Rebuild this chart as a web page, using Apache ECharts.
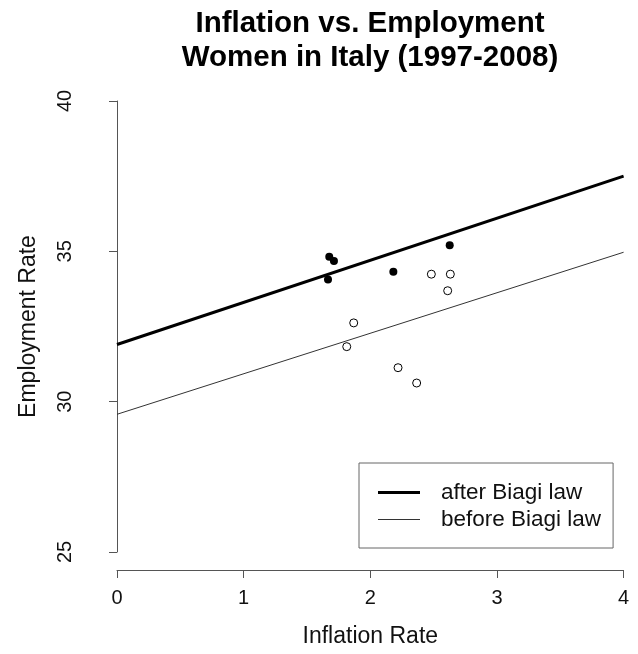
<!DOCTYPE html>
<html>
<head>
<meta charset="utf-8">
<script src="https://cdn.jsdelivr.net/npm/echarts@6/dist/echarts.min.js"></script>
<style>
html,body{margin:0;padding:0;background:#fff;}
#chart{width:638px;height:654px;}
</style>
</head>
<body>
<div id="chart"></div>
<script>
// Data
var titleLines = ['Inflation vs. Employment', 'Women in Italy (1997-2008)'];
var xTicks = [0, 1, 2, 3, 4];
var yTicks = [25, 30, 35, 40];

// Points after Biagi law (filled)
var afterInflation  = [1.676, 1.713, 1.666, 2.182, 2.627];
var afterEmployment = [34.82, 34.68, 34.06, 34.32, 35.20];

// Points before Biagi law (open)
var beforeInflation  = [2.482, 2.632, 2.611, 1.869, 1.814, 2.219, 2.366];
var beforeEmployment = [34.24, 34.24, 33.69, 32.62, 31.83, 31.13, 30.62];

// Fitted lines: values at inflation = 0 and inflation = 4
var lineX = [0, 4];
var afterLineY  = [31.90, 37.50];
var beforeLineY = [29.58, 34.97];

function zip(a, b) { return a.map(function (v, i) { return [v, b[i]]; }); }

var FONT = 'Liberation Sans, Arial, Helvetica, sans-serif';
var AXIS_COLOR = '#555';

var chart = echarts.init(document.getElementById('chart'), null, {renderer: 'canvas'});
chart.setOption({
  animation: false,
  backgroundColor: '#fff',
  title: {
    text: titleLines.join('\n'),
    left: 370,
    top: 7,
    textAlign: 'center',
    padding: 0,
    textStyle: {fontFamily: FONT, fontWeight: 'bold', fontSize: 29.5, lineHeight: 34, color: '#000'}
  },
  legend: {
    orient: 'vertical',
    left: 359,
    top: 463,
    padding: [18, 12, 17, 19],
    itemGap: 4,
    itemWidth: 42,
    itemHeight: 22,
    borderColor: '#666',
    borderWidth: 1,
    textStyle: {fontFamily: FONT, fontSize: 22.5, color: '#111', lineHeight: 22, padding: [0, 0, 0, 16]},
    data: [
      {name: 'after Biagi law', icon: 'path://M0,0 H42 V3 H0 Z'},
      {name: 'before Biagi law', icon: 'path://M0,0 H42 V1 H0 Z'}
    ]
  },
  grid: {left: 117, top: 101, width: 506.6, height: 451, containLabel: false},
  xAxis: {
    type: 'value',
    min: xTicks[0],
    max: xTicks[xTicks.length - 1],
    interval: 1,
    offset: 18,
    name: 'Inflation Rate',
    nameLocation: 'middle',
    nameGap: 55,
    nameTextStyle: {fontFamily: FONT, fontSize: 23, color: '#111'},
    axisLine: {show: true, lineStyle: {color: AXIS_COLOR, width: 1}},
    axisTick: {show: true, length: 8, lineStyle: {color: AXIS_COLOR}},
    axisLabel: {fontFamily: FONT, fontSize: 20, color: '#111', margin: 18},
    splitLine: {show: false}
  },
  yAxis: {
    type: 'value',
    min: yTicks[0],
    max: yTicks[yTicks.length - 1],
    interval: 5,
    offset: 20,
    name: 'Employment Rate',
    nameLocation: 'middle',
    nameGap: 57,
    nameRotate: 90,
    nameTextStyle: {fontFamily: FONT, fontSize: 23, color: '#111'},
    axisLine: {show: true, lineStyle: {color: AXIS_COLOR, width: 1}},
    axisTick: {show: true, length: 8, lineStyle: {color: AXIS_COLOR}},
    axisLabel: {fontFamily: FONT, fontSize: 20, color: '#111', rotate: 90, margin: 22},
    splitLine: {show: false}
  },
  series: [
    {
      name: 'after Biagi law',
      type: 'line',
      data: zip(lineX, afterLineY),
      showSymbol: false,
      symbol: 'none',
      clip: false,
      color: '#000',
      lineStyle: {color: '#000', width: 3}
    },
    {
      name: 'before Biagi law',
      type: 'line',
      data: zip(lineX, beforeLineY),
      showSymbol: false,
      symbol: 'none',
      clip: false,
      color: '#333',
      lineStyle: {color: '#333', width: 1}
    },
    {
      name: 'after points',
      type: 'scatter',
      data: zip(afterInflation, afterEmployment),
      symbol: 'circle',
      symbolSize: 8,
      clip: false,
      itemStyle: {color: '#000', opacity: 1}
    },
    {
      name: 'before points',
      type: 'scatter',
      data: zip(beforeInflation, beforeEmployment),
      symbol: 'circle',
      symbolSize: 8,
      clip: false,
      itemStyle: {color: '#fff', borderColor: '#000', borderWidth: 1, opacity: 1}
    }
  ]
});
</script>
</body>
</html>
